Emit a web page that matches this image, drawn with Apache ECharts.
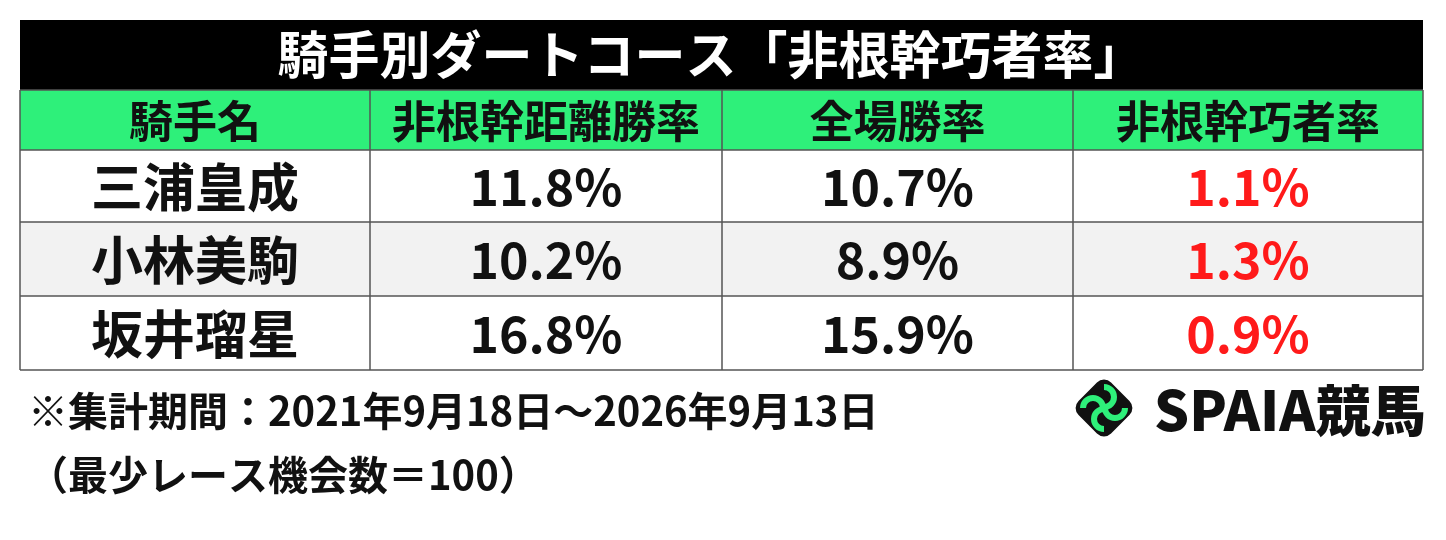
<!DOCTYPE html>
<html><head><meta charset="utf-8">
<script src="https://cdn.jsdelivr.net/npm/echarts@6/dist/echarts.min.js"></script>
<style>html,body{margin:0;padding:0;background:#fff}#c{width:1446px;height:540px}</style>
</head><body><div id="c"></div>
<script>
const title = '騎手別ダートコース「非根幹巧者率」';
const headers = ['騎手名','非根幹距離勝率','全場勝率','非根幹巧者率'];
const jockeys = ['三浦皇成','小林美駒','坂井瑠星'];
const nonCoreRate = ['11.8%','10.2%','16.8%'];
const allRate = ['10.7%','8.9%','15.9%'];
const skillRate = ['1.1%','1.3%','0.9%'];
const note1 = '※集計期間：2021年9月18日～2026年9月13日';
const note2 = '（最少レース機会数＝100）';

const F = '"Noto Sans CJK JP","Noto Sans",sans-serif';
const colX = [20,370,722,1073,1423];
const rowY = [150,222,296,370];
const g = [];
g.push({type:'rect',shape:{x:20,y:20,width:1403,height:70},style:{fill:'#000'}});
g.push({type:'text',x:711,y:55,style:{text:title,fill:'#fff',font:'bold 51px '+F,align:'center',verticalAlign:'middle'}});
g.push({type:'rect',shape:{x:20,y:90,width:1403,height:60},style:{fill:'#2ef07a'}});
headers.forEach((h,i)=>{
  g.push({type:'text',x:(colX[i]+colX[i+1])/2,y:121,style:{text:h,fill:'#111',font:'bold 44px '+F,align:'center',verticalAlign:'middle'}});
});
jockeys.forEach((j,r)=>{
  const y0=rowY[r], y1=rowY[r+1];
  g.push({type:'rect',shape:{x:20,y:y0,width:1403,height:y1-y0},style:{fill:r===1?'#f2f2f2':'#fff'}});
  const vals=[j,nonCoreRate[r],allRate[r],skillRate[r]];
  vals.forEach((v,c)=>{
    g.push({type:'text',x:(colX[c]+colX[c+1])/2,y:(y0+y1)/2+1,style:{text:v,fill:c===3?'#ff1a1a':'#111',font:(c===0?'bold 52px ':'bold 50px ')+F,align:'center',verticalAlign:'middle'}});
  });
});
for(let i=0;i<colX.length;i++) g.push({type:'line',shape:{x1:colX[i],y1:90,x2:colX[i],y2:370},style:{stroke:'#555',lineWidth:1.5}});
for(const y of [90,150,222,296,370]) g.push({type:'line',shape:{x1:20,y1:y,x2:1423,y2:y},style:{stroke:'#555',lineWidth:1.5}});
g.push({type:'text',x:28,y:411,style:{text:note1,fill:'#111',font:'bold 40px '+F,verticalAlign:'middle'}});
g.push({type:'text',x:28,y:475,style:{text:note2,fill:'#111',font:'bold 40px '+F,verticalAlign:'middle'}});
// logo
g.push({type:'rect',x:1104,y:408,rotation:Math.PI/4,shape:{x:-23,y:-23,width:46,height:46,r:10},style:{fill:'#111'}});
for(let k=0;k<4;k++){
  const a=k*Math.PI/2;
  g.push({type:'arc',x:1104+Math.cos(a)*11,y:408+Math.sin(a)*11,shape:{cx:0,cy:0,r:10,startAngle:a,endAngle:a+Math.PI},style:{stroke:'#2ef07a',lineWidth:6,fill:null}});
}
g.push({type:'text',x:1154,y:410,style:{text:'SPAIA競馬',fill:'#111',font:'900 55px '+F,verticalAlign:'middle'}});
const chart=echarts.init(document.getElementById('c'));
chart.setOption({animation:false,graphic:g});
</script></body></html>
